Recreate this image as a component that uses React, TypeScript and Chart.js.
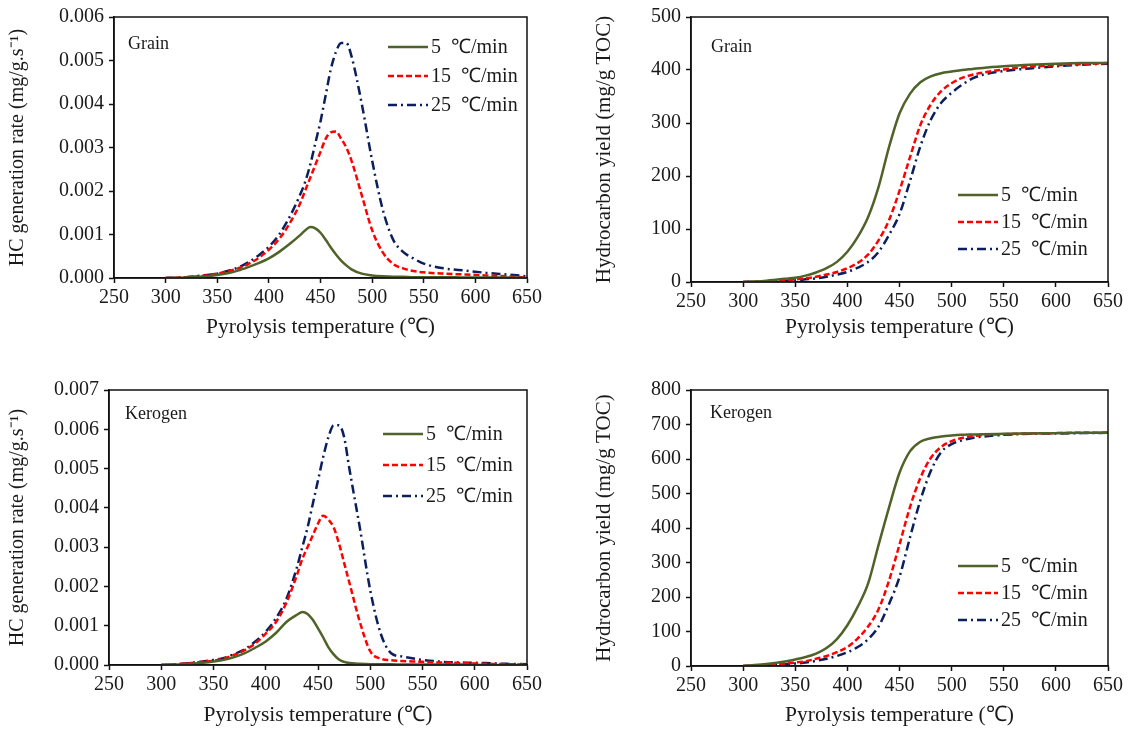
import { useEffect, useRef } from "react";
import { Chart, registerables } from "chart.js";

Chart.register(...registerables);

// ---------- data ----------
const RATE_TEMPS = [300, 320, 340, 350, 360, 370, 380, 390, 400, 410, 420, 430, 435, 440, 445, 450, 455, 460, 465, 470, 475, 480, 490, 500, 510, 520, 530, 540, 550, 570, 590, 610, 630, 650];

const GRAIN_RATE_5 = [0, 0.00001, 0.00004, 0.00007, 0.00011, 0.00017, 0.00025, 0.00034, 0.00045, 0.0006, 0.00078, 0.00098, 0.00109, 0.00117, 0.00114, 0.00104, 0.00088, 0.0007, 0.00054, 0.0004, 0.00029, 0.0002, 0.0001, 0.00006, 0.00004, 0.00003, 0.00003, 0.00002, 0.00002, 0.00002, 0.00001, 0.00001, 0.00001, 0];
const GRAIN_RATE_15 = [0, 0.00002, 0.00006, 0.0001, 0.00015, 0.00022, 0.00032, 0.00046, 0.00065, 0.0009, 0.00125, 0.0017, 0.002, 0.0023, 0.0026, 0.0029, 0.0032, 0.00335, 0.00337, 0.0032, 0.003, 0.0027, 0.0019, 0.0011, 0.0006, 0.00033, 0.00022, 0.00016, 0.00013, 0.0001, 0.00008, 0.00006, 0.00004, 0.00001];
const GRAIN_RATE_25 = [0, 0.00002, 0.00007, 0.0001, 0.00016, 0.00024, 0.00036, 0.00052, 0.00072, 0.001, 0.0014, 0.0019, 0.0022, 0.0026, 0.0031, 0.0036, 0.0042, 0.0048, 0.0052, 0.0054, 0.0054, 0.0051, 0.004, 0.0027, 0.0016, 0.0009, 0.0006, 0.00045, 0.00033, 0.00022, 0.00017, 0.00012, 0.00008, 0.00004];

const KEROGEN_RATE_5 = [0, 0.00002, 0.00006, 0.00009, 0.00013, 0.0002, 0.0003, 0.00044, 0.0006, 0.00082, 0.0011, 0.00128, 0.00135, 0.0013, 0.00115, 0.00093, 0.0007, 0.00045, 0.00027, 0.00014, 0.00008, 0.00005, 0.00003, 0.00002, 0.00002, 0.00002, 0.00001, 0.00001, 0.00001, 0.00001, 0.00001, 0, 0, 0];
const KEROGEN_RATE_15 = [0, 0.00003, 0.00008, 0.00011, 0.00017, 0.00026, 0.00038, 0.00055, 0.0008, 0.0011, 0.0016, 0.0023, 0.0027, 0.003, 0.0033, 0.0036, 0.0038, 0.0037, 0.0035, 0.0031, 0.0026, 0.0021, 0.0011, 0.00035, 0.00016, 0.00012, 0.0001, 0.00009, 0.00008, 0.00006, 0.00005, 0.00003, 0.00002, 0.00001];
const KEROGEN_RATE_25 = [0, 0.00003, 0.00009, 0.00013, 0.00018, 0.00028, 0.0004, 0.0006, 0.00085, 0.0012, 0.0017, 0.0025, 0.003, 0.0035, 0.0041, 0.0047, 0.0053, 0.0058, 0.0061, 0.0061, 0.0058, 0.005, 0.0035, 0.0019, 0.0008, 0.0003, 0.00022, 0.00017, 0.00013, 0.00008, 0.00006, 0.00005, 0.00003, 0.00002];

const YIELD_TEMPS = [300, 320, 340, 350, 360, 370, 380, 390, 400, 410, 420, 430, 440, 450, 460, 470, 480, 490, 500, 510, 520, 530, 550, 575, 600, 625, 650];

const GRAIN_YIELD_5 = [0, 2, 6, 8, 12, 18, 26, 38, 57, 85, 123, 180, 255, 318, 355, 377, 388, 394, 397, 400, 402, 404, 407, 410, 412, 413, 413];
const GRAIN_YIELD_15 = [0, 1, 3, 5, 7, 10, 14, 19, 26, 36, 52, 79, 117, 172, 235, 296, 335, 360, 375, 385, 391, 395, 401, 406, 409, 411, 413];
const GRAIN_YIELD_25 = [0, 1, 2, 3, 5, 7, 10, 14, 19, 27, 38, 57, 89, 128, 190, 256, 306, 338, 357, 372, 384, 391, 398, 403, 407, 410, 412];

const KEROGEN_YIELD_5 = [0, 5, 13, 19, 26, 36, 52, 78, 118, 172, 240, 352, 460, 560, 622, 650, 660, 665, 668, 670, 671, 672, 673, 674, 675, 676, 676];
const KEROGEN_YIELD_15 = [0, 3, 7, 10, 14, 21, 29, 40, 55, 80, 115, 165, 248, 352, 460, 545, 603, 635, 652, 661, 666, 669, 672, 674, 675, 676, 676];
const KEROGEN_YIELD_25 = [0, 2, 5, 7, 10, 15, 21, 29, 40, 55, 78, 115, 180, 258, 372, 480, 565, 620, 643, 654, 661, 665, 670, 673, 674, 675, 676];

const SERIES_LABELS = ["5 \u2103/min", "15 \u2103/min", "25 \u2103/min"];
const X_TICKS = [250, 300, 350, 400, 450, 500, 550, 600, 650];

// ---------- styles ----------
const FONT = "'Liberation Serif', 'Times New Roman', serif";
const TEXT = "#1a1a1a";
const SERIES_STYLE = [
  { color: "#4f6228", dash: [] as number[] },
  { color: "#ff0000", dash: [6, 3] },
  { color: "#0a1f5c", dash: [9, 4, 2, 4] },
];

const decorPlugin = {
  id: "decor",
  afterDatasetsDraw(chart: any, _args: any, opts: any) {
    const { ctx, chartArea: a } = chart;
    ctx.save();
    ctx.strokeStyle = "#111";
    ctx.lineWidth = 1.5;
    ctx.strokeRect(a.left, a.top, a.right - a.left, a.bottom - a.top);
    ctx.font = `18px ${FONT}`;
    ctx.fillStyle = TEXT;
    ctx.textBaseline = "middle";
    ctx.textAlign = "left";
    ctx.fillText(opts.label, a.left + opts.labelX, a.top + opts.labelY);
    chart.data.datasets.forEach((ds: any, i: number) => {
      const y = a.top + opts.legendY + i * opts.legendGap;
      const x = a.left + opts.legendX;
      ctx.beginPath();
      ctx.setLineDash(ds.borderDash || []);
      ctx.strokeStyle = ds.borderColor;
      ctx.lineWidth = ds.borderWidth;
      ctx.moveTo(x, y);
      ctx.lineTo(x + 40, y);
      ctx.stroke();
      ctx.setLineDash([]);
      // label: number, a wide gap, then the unit
      const [num, rest] = String(ds.label).split(" ");
      let tx = x + 43;
      ctx.font = `20px ${FONT}`;
      ctx.fillText(num, tx, y + 1);
      tx += ctx.measureText(num).width + 10;
      ctx.fillText(rest, tx, y + 1);
    });
    ctx.restore();
  },
};

type PanelDef = {
  left: number; top: number; w: number; h: number;
  padTop: number; padRight: number; yWidth: number; xHeight: number;
  yTitlePad: number; xTitlePad: number; yTitleSize: number;
  temps: number[]; series: number[][];
  yMax: number; yStep: number; decimals: number;
  yTitle: string; label: string;
  labelX: number; labelY: number; legendX: number; legendY: number; legendGap: number;
};

const PANELS: PanelDef[] = [
  {
    left: 0, top: 0, w: 560, h: 345, padTop: 17, padRight: 33, yWidth: 114, xHeight: 67,
    yTitlePad: 6, xTitlePad: 5, yTitleSize: 20,
    temps: RATE_TEMPS, series: [GRAIN_RATE_5, GRAIN_RATE_15, GRAIN_RATE_25],
    yMax: 0.006, yStep: 0.001, decimals: 3,
    yTitle: "HC generation rate (mg/g.s\u207B\u00B9)", label: "Grain",
    labelX: 14, labelY: 27, legendX: 274, legendY: 30, legendGap: 29,
  },
  {
    left: 560, top: 0, w: 573, h: 345, padTop: 14, padRight: 25, yWidth: 131, xHeight: 63,
    yTitlePad: 32, xTitlePad: 5, yTitleSize: 21,
    temps: YIELD_TEMPS, series: [GRAIN_YIELD_5, GRAIN_YIELD_15, GRAIN_YIELD_25],
    yMax: 500, yStep: 100, decimals: 0,
    yTitle: "Hydrocarbon yield (mg/g TOC)", label: "Grain",
    labelX: 20, labelY: 30, legendX: 267, legendY: 178, legendGap: 27,
  },
  {
    left: 0, top: 345, w: 560, h: 386, padTop: 45, padRight: 33, yWidth: 109, xHeight: 66,
    yTitlePad: 6, xTitlePad: 3, yTitleSize: 20,
    temps: RATE_TEMPS, series: [KEROGEN_RATE_5, KEROGEN_RATE_15, KEROGEN_RATE_25],
    yMax: 0.007, yStep: 0.001, decimals: 3,
    yTitle: "HC generation rate (mg/g.s\u207B\u00B9)", label: "Kerogen",
    labelX: 16, labelY: 24, legendX: 274, legendY: 44, legendGap: 31,
  },
  {
    left: 560, top: 345, w: 573, h: 386, padTop: 45, padRight: 25, yWidth: 131, xHeight: 65,
    yTitlePad: 32, xTitlePad: 3, yTitleSize: 21,
    temps: YIELD_TEMPS, series: [KEROGEN_YIELD_5, KEROGEN_YIELD_15, KEROGEN_YIELD_25],
    yMax: 800, yStep: 100, decimals: 0,
    yTitle: "Hydrocarbon yield (mg/g TOC)", label: "Kerogen",
    labelX: 19, labelY: 23, legendX: 267, legendY: 176, legendGap: 27,
  },
];

function Panel({ def }: { def: PanelDef }) {
  const ref = useRef<HTMLCanvasElement | null>(null);
  useEffect(() => {
    if (!ref.current) return;
    const chart = new Chart(ref.current, {
      type: "line",
      data: {
        datasets: def.series.map((vals, i) => ({
          label: SERIES_LABELS[i],
          data: def.temps.map((t, j) => ({ x: t, y: vals[j] })),
          borderColor: SERIES_STYLE[i].color,
          borderDash: SERIES_STYLE[i].dash,
          borderWidth: 2.5,
          pointRadius: 0,
          fill: false,
          cubicInterpolationMode: "monotone" as const,
        })),
      },
      options: {
        responsive: false,
        animation: false,
        layout: { padding: { top: def.padTop, right: def.padRight, left: 0, bottom: 0 } },
        plugins: {
          legend: { display: false },
          tooltip: { enabled: false },
          decor: {
            label: def.label, labelX: def.labelX, labelY: def.labelY,
            legendX: def.legendX, legendY: def.legendY, legendGap: def.legendGap,
          },
        } as any,
        scales: {
          x: {
            type: "linear",
            min: 250,
            max: 650,
            afterFit: (s: any) => { s.height = def.xHeight; },
            afterBuildTicks: (s: any) => { s.ticks = X_TICKS.map((v) => ({ value: v })); },
            grid: { display: true, drawOnChartArea: false, drawTicks: true, tickLength: 5, color: "#111", tickWidth: 1.5 },
            border: { display: true, color: "#111", width: 1.5 },
            ticks: { color: TEXT, font: { family: FONT, size: 20 }, padding: 3, maxRotation: 0, autoSkip: false },
            title: {
              display: true,
              text: "Pyrolysis temperature (\u2103)",
              color: TEXT,
              font: { family: FONT, size: 21.5 },
              padding: { top: 0, bottom: def.xTitlePad },
            },
          },
          y: {
            type: "linear",
            min: 0,
            max: def.yMax,
            afterFit: (s: any) => { s.width = def.yWidth; },
            ticks: {
              stepSize: def.yStep,
              color: TEXT,
              font: { family: FONT, size: 20 },
              padding: 5,
              callback: (v: any) => Number(v).toFixed(def.decimals),
            },
            grid: { display: true, drawOnChartArea: false, drawTicks: true, tickLength: 5, color: "#111", tickWidth: 1.5 },
            border: { display: true, color: "#111", width: 1.5 },
            title: {
              display: true,
              text: def.yTitle,
              color: TEXT,
              font: { family: FONT, size: def.yTitleSize },
              padding: { top: def.yTitlePad, bottom: 0 },
            },
          },
        },
      },
      plugins: [decorPlugin],
    });
    return () => chart.destroy();
  }, [def]);
  return (
    <canvas
      ref={ref}
      width={def.w}
      height={def.h}
      style={{ position: "absolute", left: def.left, top: def.top, width: def.w, height: def.h }}
    />
  );
}

export default function App() {
  return (
    <div style={{ position: "absolute", left: 0, top: 0, width: 1133, height: 731, background: "#ffffff" }}>
      {PANELS.map((p, i) => (
        <Panel key={i} def={p} />
      ))}
    </div>
  );
}
